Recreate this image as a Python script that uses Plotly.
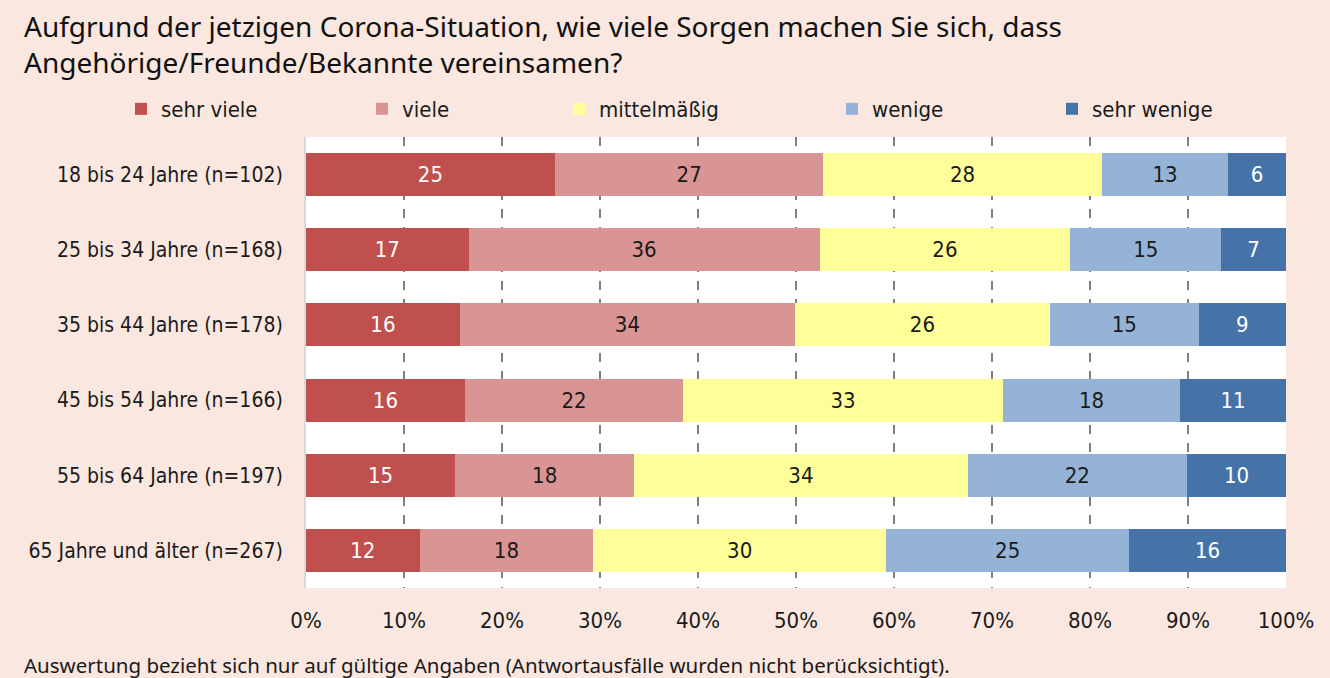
import plotly.graph_objects as go

categories = ["18 bis 24 Jahre (n=102)", "25 bis 34 Jahre (n=168)", "35 bis 44 Jahre (n=178)",
              "45 bis 54 Jahre (n=166)", "55 bis 64 Jahre (n=197)", "65 Jahre und älter (n=267)"]
series_names = ["sehr viele", "viele", "mittelmäßig", "wenige", "sehr wenige"]
sehr_viele = [25.4, 16.6, 15.7, 16.2, 15.2, 11.6]
viele = [27.4, 35.8, 34.2, 22.3, 18.3, 17.7]
mittelmaessig = [28.4, 25.6, 26.0, 32.6, 34.0, 29.9]
wenige = [12.9, 15.4, 15.2, 18.1, 22.4, 24.8]
sehr_wenige = [5.9, 6.6, 8.9, 10.8, 10.1, 16.0]
tick_vals = [0, 10, 20, 30, 40, 50, 60, 70, 80, 90, 100]
tick_text = ["0%", "10%", "20%", "30%", "40%", "50%", "60%", "70%", "80%", "90%", "100%"]

title_text = ("Aufgrund der jetzigen Corona-Situation, wie viele Sorgen machen Sie sich, dass<br>"
              "Angehörige/Freunde/Bekannte vereinsamen?")
footnote = "Auswertung bezieht sich nur auf gültige Angaben (Antwortausfälle wurden nicht berücksichtigt)."

colors = ["#C0504D", "#D99594", "#FFFF99", "#95B3D7", "#4573A8"]
text_colors = ["white", "#1a1a1a", "#1a1a1a", "#1a1a1a", "white"]
legend_text_x = [161, 402, 599, 872, 1092]

W, H = 1330, 678
L, R, T, B = 306, 44, 137, 90
PW, PH = W - L - R, H - T - B

COND = "Liberation Sans Narrow, DejaVu Sans Condensed, Roboto, sans-serif"
REG = "Noto Sans, Open Sans, sans-serif"

fig = go.Figure()
values = [sehr_viele, viele, mittelmaessig, wenige, sehr_wenige]
for i, (name, vals) in enumerate(zip(series_names, values)):
    fig.add_trace(go.Bar(
        y=categories, x=vals, name=name, orientation="h",
        marker=dict(color=colors[i], line=dict(width=0)),
        text=vals, texttemplate="%{x:.0f}", textposition="inside",
        insidetextanchor="middle", textangle=0,
        textfont=dict(family=COND, size=22, color=text_colors[i]),
        legend="legend" if i == 0 else f"legend{i+1}",
        showlegend=True,
        hoverinfo="skip",
    ))

layout_legends = {}
for i in range(5):
    key = "legend" if i == 0 else f"legend{i+1}"
    layout_legends[key] = dict(
        xref="container", yref="container", x=(legend_text_x[i] - 40) / W, y=1 - 109 / H,
        xanchor="left", yanchor="middle", orientation="h",
        bgcolor="rgba(0,0,0,0)", font=dict(family=COND, size=22, color="#1a1a1a"),
        itemwidth=30, tracegroupgap=0,
    )

fig.update_layout(
    barmode="stack", bargap=0.43,
    width=W, height=H, showlegend=True,
    paper_bgcolor="#F9E7E0", plot_bgcolor="white",
    margin=dict(l=L, r=R, t=T, b=B, autoexpand=False),
    xaxis=dict(range=[0, 100], tickvals=tick_vals, ticktext=tick_text, showgrid=True,
               gridcolor="#7F7F7F", gridwidth=1.5, griddash="dash", zeroline=False,
               showline=False, ticks="", ticklabelstandoff=17,
               tickfont=dict(family=COND, size=22, color="#1a1a1a"), fixedrange=True),
    yaxis=dict(autorange="reversed", showline=True, linecolor="#D9D9D9", linewidth=2,
               ticks="", ticklabelstandoff=17, showgrid=False,
               tickfont=dict(family=COND, size=21, color="#1a1a1a"), fixedrange=True),
    annotations=[
        dict(text=title_text, xref="paper", yref="paper", x=(22 - L) / PW,
             y=(H - B - 5) / PH, xanchor="left", yanchor="top", align="left", showarrow=False,
             font=dict(family=REG, size=28, color="#111111")),
        dict(text=footnote, xref="paper", yref="paper", x=(22 - L) / PW,
             y=(H - B - 665) / PH, xanchor="left", yanchor="middle", showarrow=False,
             font=dict(family=REG, size=20.5, color="#1a1a1a")),
    ],
    **layout_legends,
)

fig.write_html("out.html", config={"displayModeBar": False},
               post_script="document.body.style.margin='0';")
